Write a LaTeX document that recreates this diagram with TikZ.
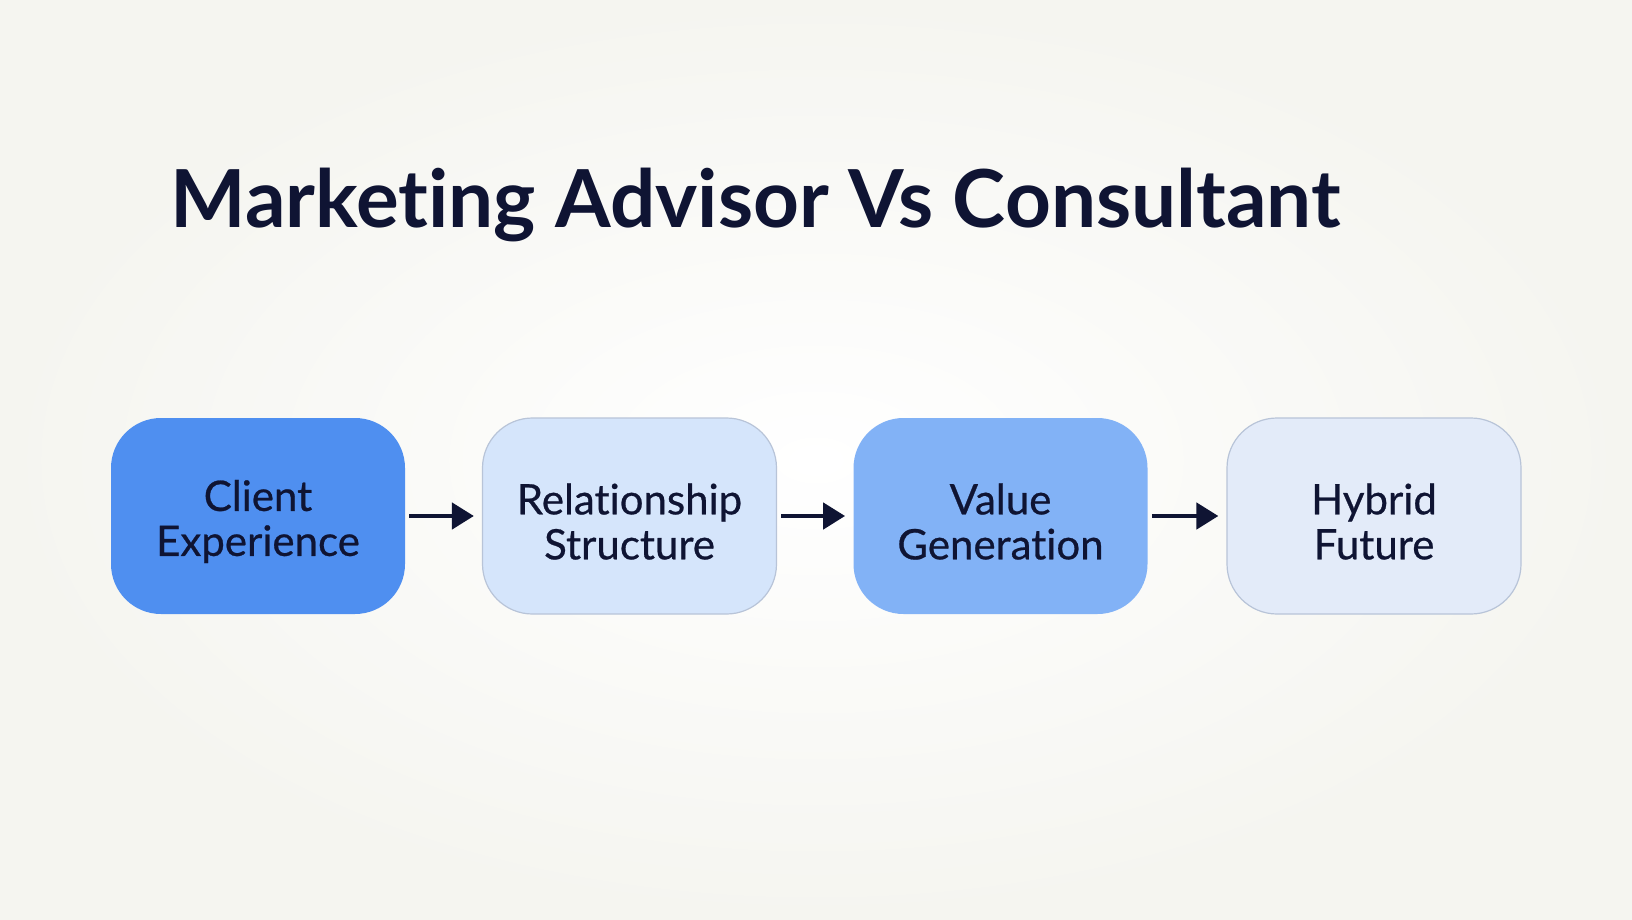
\documentclass[tikz,border=0pt]{standalone}
\usepackage{fontspec}
\setmainfont{Lato}[Ligatures=NoCommon]
\newfontfamily\boxfont{Lato}[Ligatures=NoCommon, FakeBold=0.6]
\usetikzlibrary{arrows.meta}
\definecolor{bg}{HTML}{F5F5F0}
\definecolor{navy}{HTML}{0F1433}
\definecolor{cA}{HTML}{4F8FF0}
\definecolor{cB}{HTML}{D5E5FB}
\definecolor{cC}{HTML}{82B2F6}
\definecolor{cD}{HTML}{E3EBF9}
\definecolor{edge}{HTML}{B8C4D8}
\begin{document}
\begin{tikzpicture}[x=0.5pt,y=-0.5pt,
  stepbox/.style={rounded corners=25pt, minimum width=147pt, minimum height=98pt,
    align=center, inner sep=0pt, font=\boxfont\fontsize{21}{22.5}\selectfont, text=navy},
  flow/.style={draw=navy, line width=2.3pt, -{Triangle[length=11pt,width=13pt]}, shorten >=1pt}]
\shade[inner color=white, outer color=bg] (0,0) rectangle (1632,920);
\useasboundingbox (0,0) rectangle (1632,920);
\node[anchor=base west, font=\fontsize{40}{48}\selectfont\bfseries, text=navy, inner sep=0pt] (title) at (170,227) {Marketing Advisor Vs Consultant};
\node[stepbox, fill=cA] (a) at (258,516) {\rule{0pt}{21pt}Client\\Experience};
\node[stepbox, fill=cB, draw=edge, line width=0.6pt] (b) at (629.5,516) {\rule{0pt}{21pt}Relationship\\Structure};
\node[stepbox, fill=cC] (c) at (1000.5,516) {\rule{0pt}{21pt}Value\\Generation};
\node[stepbox, fill=cD, draw=edge, line width=0.6pt] (d) at (1374,516) {\rule{0pt}{21pt}Hybrid\\Future};
\draw[flow] ([xshift=2pt]a.east) -- ([xshift=-3pt]b.west);
\draw[flow] ([xshift=2pt]b.east) -- ([xshift=-3pt]c.west);
\draw[flow] ([xshift=2pt]c.east) -- ([xshift=-3pt]d.west);
\end{tikzpicture}
\end{document}
